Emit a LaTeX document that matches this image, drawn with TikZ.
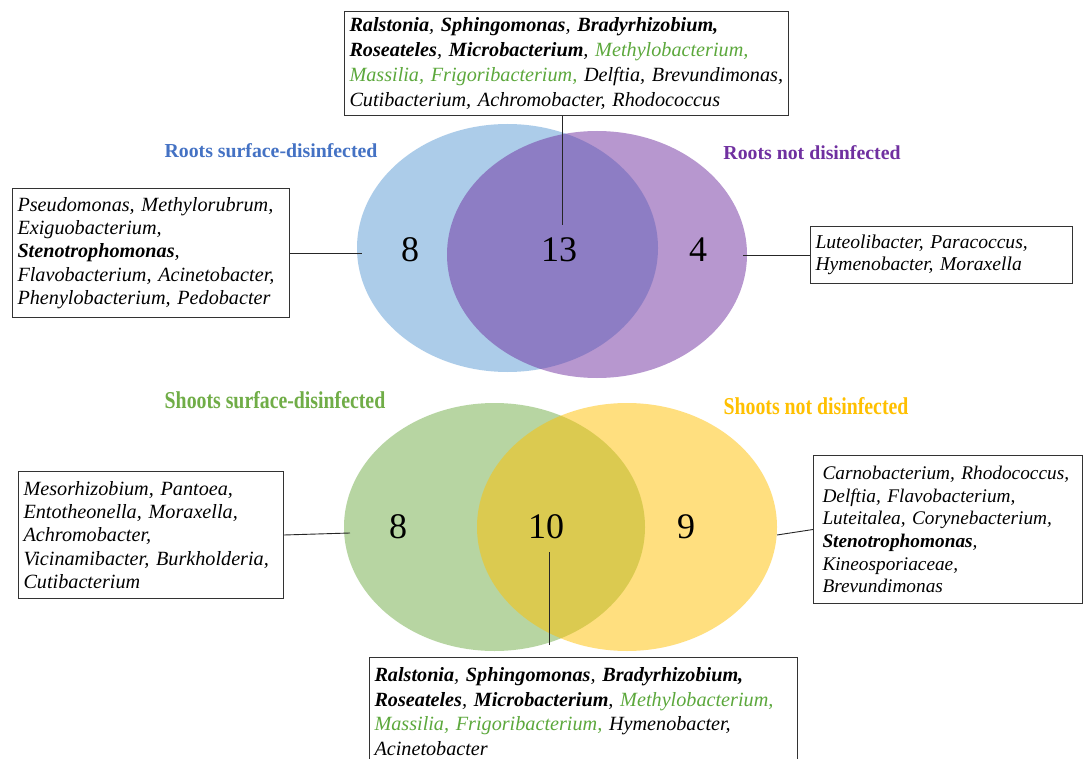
\documentclass[tikz,border=0pt]{standalone}
\usepackage{fontspec}
\setmainfont{Liberation Serif}
\definecolor{vblue}{RGB}{91,155,213}
\definecolor{vpurple}{RGB}{112,48,160}
\definecolor{vgreen}{RGB}{112,173,71}
\definecolor{vgold}{RGB}{255,192,0}
\definecolor{lblue}{RGB}{68,114,196}
\definecolor{tgreen}{RGB}{92,168,60}
\hyphenpenalty=10000
\exhyphenpenalty=10000
\tikzset{
  setfill/.style={fill=#1, fill opacity=0.5, draw=none},
  gbox/.style={draw=black!80, line width=1pt, anchor=north west, align=left,
    inner xsep=5pt, inner ysep=2pt, font=\fontsize{20.2}{23.3}\selectfont\itshape},
  bigbox/.style={gbox, font=\fontsize{20.2}{25.3}\selectfont\itshape},
  num/.style={font=\fontsize{36}{40}\selectfont, inner sep=0pt},
  setlabel/.style={font=\fontsize{19.8}{22}\selectfont\bfseries, inner sep=0pt},
  conn/.style={draw=black!85, line width=0.9pt}
}
\newcommand{\bi}[1]{\textbf{#1}}
\begin{document}
\begin{tikzpicture}[x=1pt,y=-1pt]
\clip (0,0) rectangle (1087,759);
\fill[white] (0,0) rectangle (1087,759);
% top Venn
\fill[setfill=vblue] (507.5,248) ellipse [x radius=150.5pt, y radius=124pt];
\fill[setfill=vpurple] (597,254.5) ellipse [x radius=150pt, y radius=123.5pt];
% bottom Venn
\fill[setfill=vgreen] (494.5,527) ellipse [x radius=150.5pt, y radius=124pt];
\fill[setfill=vgold] (627,527) ellipse [x radius=150pt, y radius=124pt];

% numbers
\node[num] (n8a) at (410,250) {8};
\node[num] (n13) at (559,250) {13};
\node[num] (n4) at (698,250) {4};
\node[num] (n8b) at (398,527) {8};
\node[num] (n10) at (546,527) {10};
\node[num] (n9) at (686,527) {9};

% set labels
\node[setlabel, text=lblue] (lrs) at (271,151) {Roots surface-disinfected};
\node[setlabel, text=vpurple] (lrn) at (812,153) {Roots not disinfected};
\node[setlabel, text=vgreen] (lss) at (275,400) {\fontsize{22}{24}\selectfont\scalebox{0.9}[1.1]{Shoots surface-disinfected}};
\node[setlabel, text=vgold] (lsn) at (816,406) {\fontsize{22}{24}\selectfont\scalebox{0.9}[1.1]{Shoots not disinfected}};

% boxes
\node[bigbox, text width=434pt, minimum height=104pt] (topbox) at (344,11)
 {\bi{Ralstonia}, \bi{Sphingomonas}, \bi{Bradyrhizobium,}\\
  \bi{Roseateles}, \bi{Microbacterium}, \textcolor{tgreen}{Methylobacterium,}\\
  \textcolor{tgreen}{Massilia, Frigoribacterium,} Delftia, Brevundimonas,\\
  Cutibacterium, Achromobacter, Rhodococcus};
\node[gbox, text width=267pt, minimum height=129pt] (ltbox) at (12,188)
 {Pseudomonas, Methylorubrum,\\
  Exiguobacterium,\\
  \bi{Stenotrophomonas},\\
  Flavobacterium, Acinetobacter,\\
  Phenylobacterium, Pedobacter};
\node[gbox, text width=252pt, minimum height=57pt, font=\fontsize{19.6}{22.3}\selectfont\itshape] (rtbox) at (810,226)
 {Luteolibacter, Paracoccus,\\
  Hymenobacter, Moraxella};
\node[gbox, text width=255pt, minimum height=127pt] (lbbox) at (18,471)
 {Mesorhizobium, Pantoea,\\
  Entotheonella, Moraxella,\\
  Achromobacter,\\
  Vicinamibacter, Burkholderia,\\
  Cutibacterium};
\node[gbox, text width=259pt, inner xsep=5pt, minimum height=148pt, font=\fontsize{19.3}{22.7}\selectfont\itshape] (rbbox) at (813,455)
 {\hspace*{4pt}Carnobacterium, Rhodococcus,\\
  \hspace*{4pt}Delftia, Flavobacterium,\\
  \hspace*{4pt}Luteitalea, Corynebacterium,\\
  \hspace*{4pt}\bi{Stenotrophomonas},\\
  \hspace*{4pt}Kineosporiaceae,\\
  \hspace*{4pt}Brevundimonas};
\node[bigbox, text width=418pt, minimum height=108pt, font=\fontsize{20.2}{24.7}\selectfont\itshape] (botbox) at (369,657)
 {\bi{Ralstonia}, \bi{Sphingomonas}, \bi{Bradyrhizobium,}\\
  \bi{Roseateles}, \bi{Microbacterium}, \textcolor{tgreen}{Methylobacterium,}\\
  \textcolor{tgreen}{Massilia, Frigoribacterium,} Hymenobacter,\\
  Acinetobacter};

% connectors
\coordinate (c13) at (562,225);
\coordinate (cl1) at (362,253);
\coordinate (cr1) at (743,255);
\coordinate (cl2) at (350,533);
\coordinate (cr2) at (777,535);
\coordinate (c10a) at (549,552);
\coordinate (c10b) at (549,645);
\draw[conn] (c13) -- (c13 |- topbox.south);
\draw[conn] (ltbox.east) -- (cl1);
\draw[conn] (cr1) -- (rtbox.west);
\draw[conn] (lbbox.east) -- (cl2);
\draw[conn] (cr2) -- (rbbox.west);
\draw[conn] (c10a) -- (c10b);
\end{tikzpicture}
\end{document}
